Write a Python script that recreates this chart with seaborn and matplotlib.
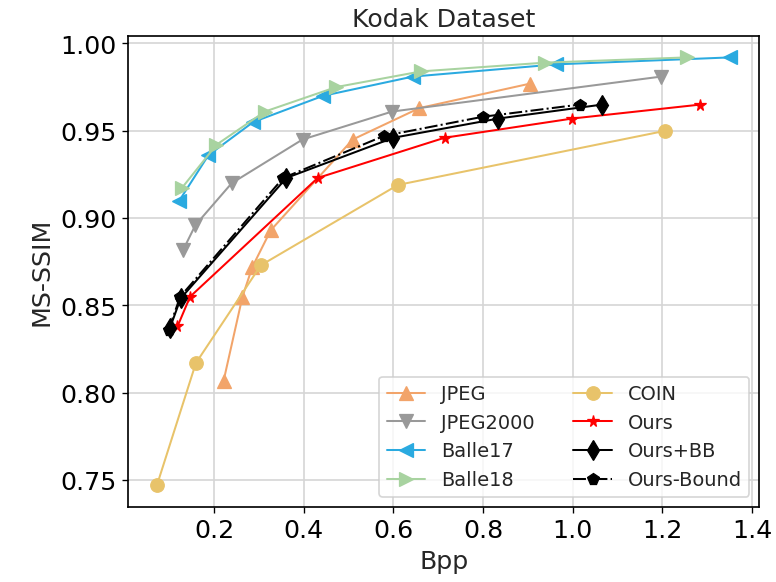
import matplotlib
matplotlib.use("Agg")
import matplotlib.pyplot as plt
import seaborn as sns
import pandas as pd

jpeg_x = [0.221, 0.263, 0.285, 0.326, 0.509, 0.658, 0.905]
jpeg_y = [0.807, 0.855, 0.872, 0.893, 0.945, 0.963, 0.977]

j2k_x = [0.131, 0.158, 0.239, 0.397, 0.597, 1.197]
j2k_y = [0.882, 0.896, 0.920, 0.945, 0.961, 0.981]

b17_x = [0.122, 0.187, 0.287, 0.443, 0.643, 0.962, 1.352]
b17_y = [0.910, 0.936, 0.955, 0.970, 0.981, 0.988, 0.992]

b18_x = [0.127, 0.205, 0.313, 0.472, 0.662, 0.938, 1.255]
b18_y = [0.917, 0.942, 0.961, 0.975, 0.984, 0.989, 0.992]

coin_x = [0.072, 0.159, 0.304, 0.610, 1.207]
coin_y = [0.747, 0.817, 0.873, 0.919, 0.950]

ours_x = [0.118, 0.146, 0.431, 0.714, 0.999, 1.285]
ours_y = [0.838, 0.855, 0.923, 0.946, 0.957, 0.965]

bb_x = [0.101, 0.125, 0.361, 0.600, 0.834, 1.066]
bb_y = [0.837, 0.854, 0.923, 0.946, 0.957, 0.965]

bound_x = [0.098, 0.124, 0.354, 0.578, 0.799, 1.016]
bound_y = [0.836, 0.855, 0.923, 0.947, 0.958, 0.965]

sns.set_theme(style="ticks")
plt.rcParams['font.family'] = ['DejaVu Sans']

fig, ax = plt.subplots(figsize=(6.4, 4.8), dpi=121.4)

series = [
    ("JPEG", jpeg_x, jpeg_y, "#F2A46A", "^", "-", 8),
    ("JPEG2000", j2k_x, j2k_y, "#999999", "v", "-", 8),
    ("Balle17", b17_x, b17_y, "#2AAAE0", "<", "-", 8),
    ("Balle18", b18_x, b18_y, "#A8D3A0", ">", "-", 8),
    ("COIN", coin_x, coin_y, "#E8C36A", "o", "-", 8),
    ("Ours", ours_x, ours_y, "#FF0000", "*", "-", 7),
    ("Ours+BB", bb_x, bb_y, "#000000", "d", "-", 8),
    ("Ours-Bound", bound_x, bound_y, "#000000", "p", "-.", 7),
]

for name, xs, ys, col, mk, ls, ms in series:
    df = pd.DataFrame({"Bpp": xs, "MS-SSIM": ys})
    sns.lineplot(data=df, x="Bpp", y="MS-SSIM", ax=ax, color=col, marker=mk,
                 linestyle=ls, markersize=ms, markeredgecolor=col,
                 linewidth=1.2, label=name, estimator=None, sort=False)

ax.grid(True, color="#d6d6d6", linewidth=1.0)
ax.set_axisbelow(True)
for s in ax.spines.values():
    s.set_color("black")
    s.set_linewidth(1.0)

ax.set_xticks([0.2, 0.4, 0.6, 0.8, 1.0, 1.2, 1.4])
ax.set_yticks([0.75, 0.80, 0.85, 0.90, 0.95, 1.00])
ax.tick_params(labelsize=15, colors="black", length=3.5, width=0.8)
ax.set_xlabel("Bpp", fontsize=15)
ax.set_ylabel("MS-SSIM", fontsize=15)
ax.set_title("Kodak Dataset", fontsize=15)

ax.legend(loc="lower right", ncol=2, fontsize=11.5, frameon=True)

fig.subplots_adjust(left=0.165, right=0.977, top=0.937, bottom=0.129)
fig.savefig("out.png", dpi=121.4)
